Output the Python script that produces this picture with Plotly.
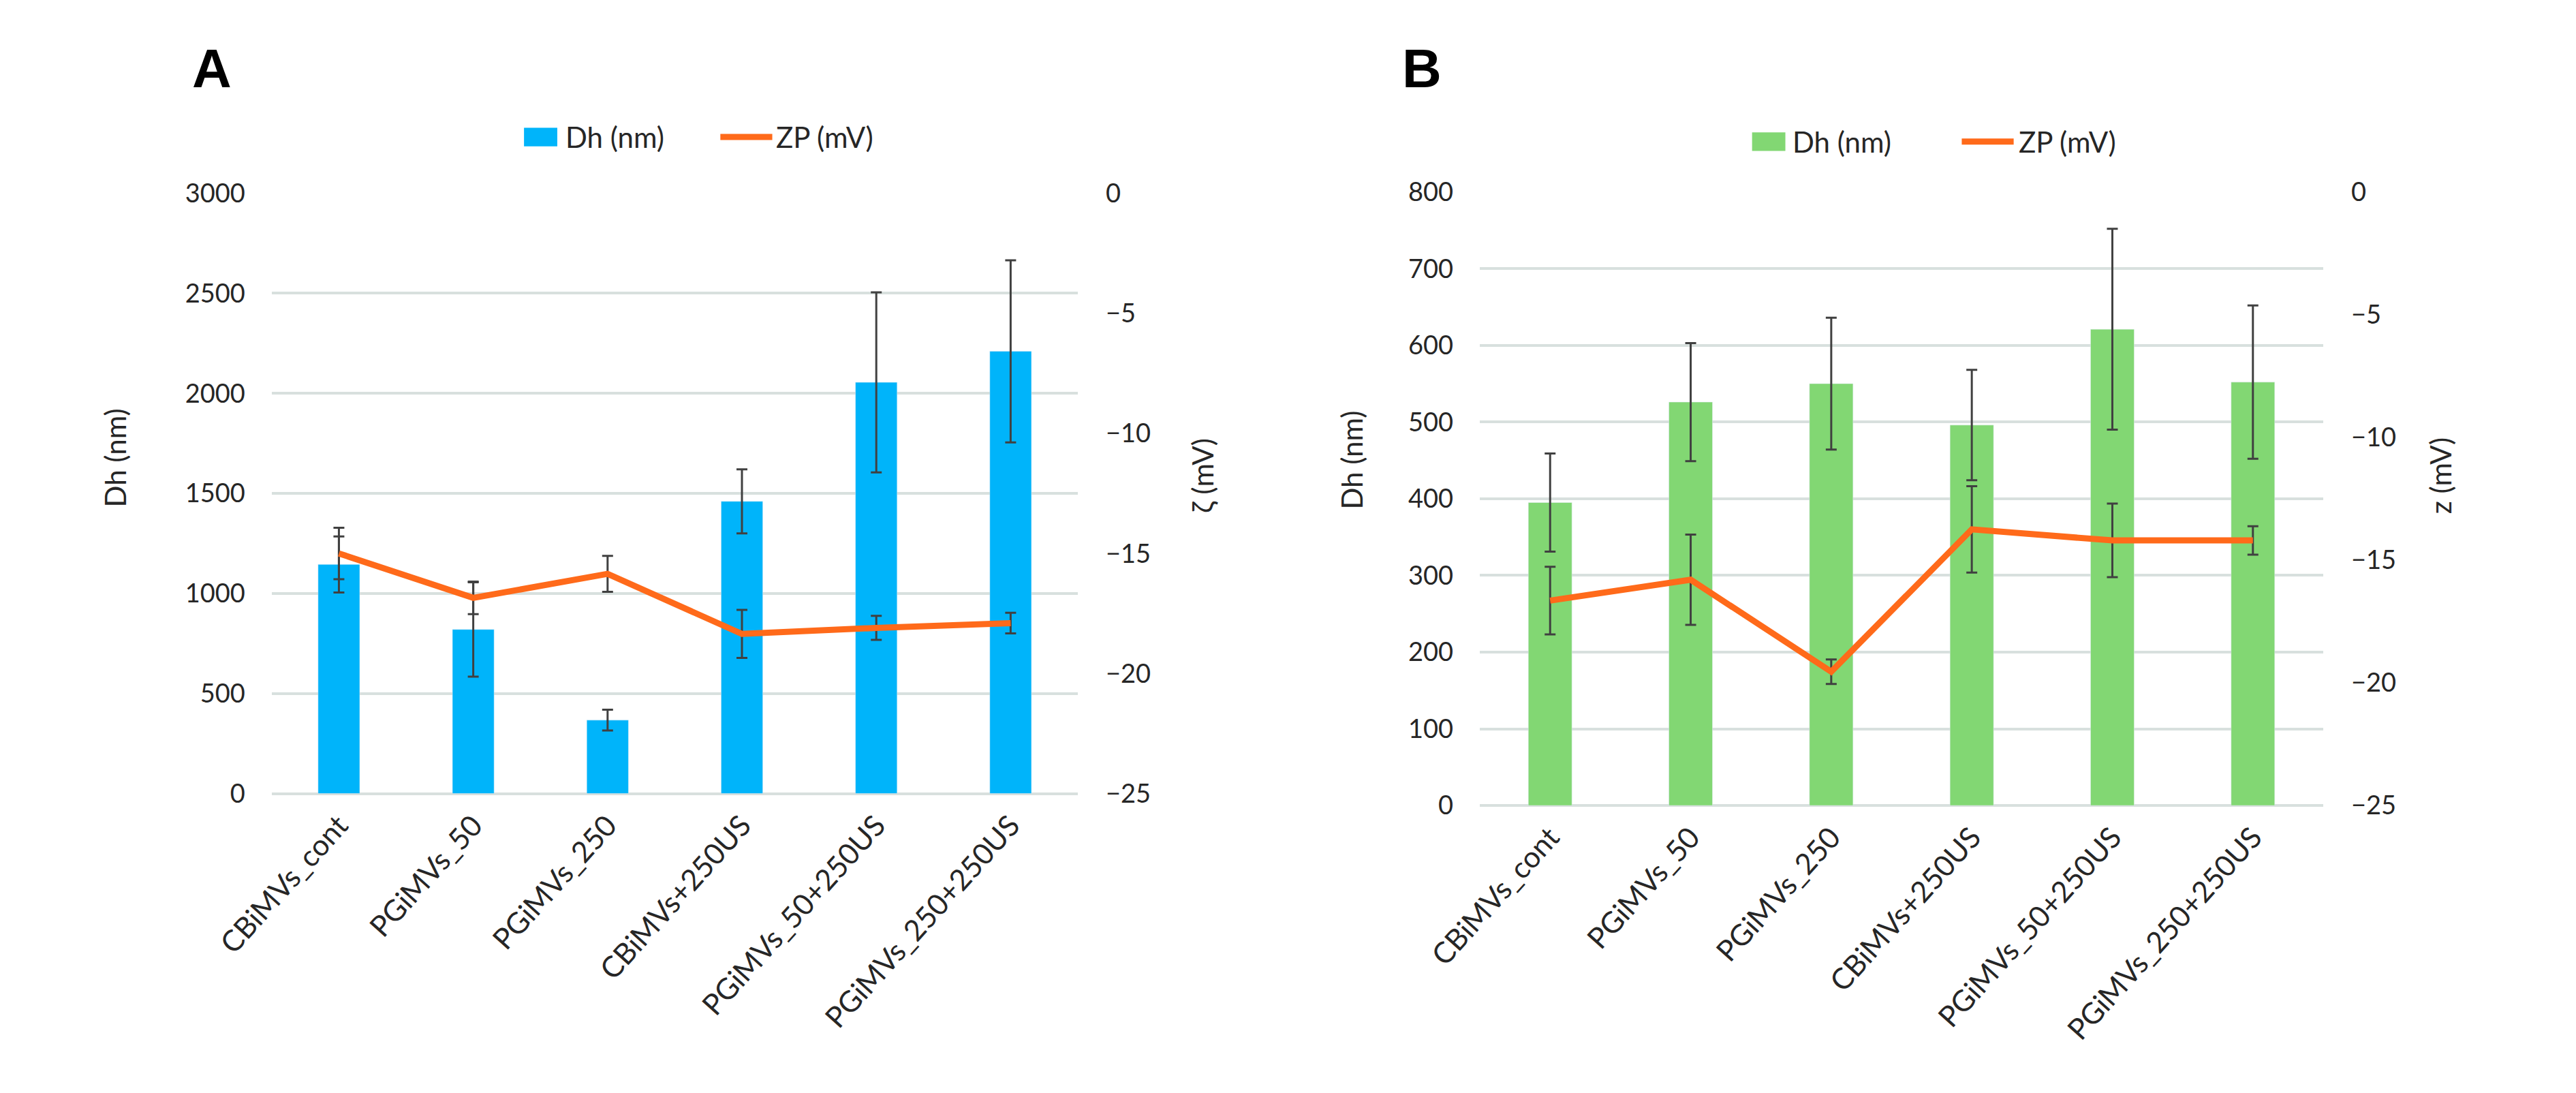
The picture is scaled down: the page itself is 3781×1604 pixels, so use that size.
import plotly.graph_objects as go

W, H = 3781, 1604

categories = ["CBiMVs_cont", "PGiMVs_50", "PGiMVs_250", "CBiMVs+250US",
              "PGiMVs_50+250US", "PGiMVs_250+250US"]

# Panel A
dh_a = [1145, 820, 367, 1460, 2055, 2210]
dh_a_err = [140, 236, 52, 160, 450, 455]
zp_a = [-15.0, -16.85, -15.85, -18.35, -18.1, -17.9]
zp_a_err = [1.07, 0.68, 0.75, 1.0, 0.5, 0.43]

# Panel B
dh_b = [395, 526, 550, 496, 621, 552]
dh_b_err = [64, 77, 86, 72, 131, 100]
zp_b = [-16.65, -15.8, -19.55, -13.75, -14.2, -14.2]
zp_b_err = [1.38, 1.84, 0.5, 1.76, 1.5, 0.58]

left_ticks_a = [0, 500, 1000, 1500, 2000, 2500, 3000]
left_ticks_b = [0, 100, 200, 300, 400, 500, 600, 700, 800]
right_ticks = [0, -5, -10, -15, -20, -25]

BLUE = "#00B4FA"
GREEN = "#82D773"
ORANGE = "#FF6A1A"
GRID = "#D8E0DE"
ERR = "#404040"
TXT = "#262626"
FONT = "Lato"


def px(x):
    return x / W


def py(y):
    return 1 - y / H


fig = go.Figure()

err_style = dict(type="data", visible=True, color=ERR, thickness=3, width=8)

fig.add_trace(go.Bar(x=categories, y=dh_a, marker_color=BLUE, name="Dh (nm)",
                     error_y=dict(array=dh_a_err, **err_style),
                     xaxis="x", yaxis="y", showlegend=False))
fig.add_trace(go.Scatter(x=categories, y=zp_a, mode="lines", name="ZP (mV)",
                         line=dict(color=ORANGE, width=9),
                         error_y=dict(array=zp_a_err, **err_style),
                         xaxis="x", yaxis="y2", showlegend=False))
fig.add_trace(go.Bar(x=categories, y=dh_b, marker_color=GREEN, name="Dh (nm)",
                     error_y=dict(array=dh_b_err, **err_style),
                     xaxis="x2", yaxis="y3", showlegend=False))
fig.add_trace(go.Scatter(x=categories, y=zp_b, mode="lines", name="ZP (mV)",
                         line=dict(color=ORANGE, width=9),
                         error_y=dict(array=zp_b_err, **err_style),
                         xaxis="x2", yaxis="y4", showlegend=False))

tickfont = dict(family=FONT, size=38, color=TXT)
xtickfont = dict(family=FONT, size=43, color=TXT)

A_X = (311, 1522)
A_Y = (258, 1165)
B_X = (2126, 3393)
B_Y = (256, 1183)

xax = dict(showgrid=False, zeroline=False, showline=False, ticks="",
           tickangle=-48, tickfont=xtickfont, ticklabelstandoff=12)
fig.update_layout(
    width=W, height=H,
    margin=dict(l=0, r=0, t=0, b=0),
    paper_bgcolor="white", plot_bgcolor="white",
    bargap=0.69,
    showlegend=False,
    xaxis=dict(domain=[px(A_X[0]), px(A_X[1])], anchor="y", **xax),
    yaxis=dict(domain=[py(A_Y[1]), py(A_Y[0])], anchor="x", range=[0, 3000],
               tickvals=left_ticks_a, showgrid=True, gridcolor=GRID, gridwidth=4,
               zeroline=True, zerolinecolor=GRID, zerolinewidth=4,
               showline=False, ticks="", tickfont=tickfont, ticklabelstandoff=38),
    yaxis2=dict(overlaying="y", side="right", anchor="x", range=[-25, 0],
                tickvals=right_ticks, showgrid=False, zeroline=False,
                showline=False, ticks="", tickfont=tickfont, ticklabelstandoff=40),
    xaxis2=dict(domain=[px(B_X[0]), px(B_X[1])], anchor="y3", **xax),
    yaxis3=dict(domain=[py(B_Y[1]), py(B_Y[0])], anchor="x2", range=[0, 800],
                tickvals=left_ticks_b, showgrid=True, gridcolor=GRID, gridwidth=4,
                zeroline=True, zerolinecolor=GRID, zerolinewidth=4,
                showline=False, ticks="", tickfont=tickfont, ticklabelstandoff=38),
    yaxis4=dict(overlaying="y3", side="right", anchor="x2", range=[-25, 0],
                tickvals=right_ticks, showgrid=False, zeroline=False,
                showline=False, ticks="", tickfont=tickfont, ticklabelstandoff=40),
)

ann = []
shapes = []


def text(x, y, s, size=38, angle=0, xanchor="center", bold=False, family=FONT):
    ann.append(dict(x=px(x), y=py(y), xref="paper", yref="paper", text=s,
                    showarrow=False, textangle=angle, xanchor=xanchor,
                    yanchor="middle",
                    font=dict(family=family, size=size, color="black" if bold else TXT)))


# panel letters
text(221, 70, "<b>A</b>", size=80, bold=True, family="Liberation Sans")
text(2039, 70, "<b>B</b>", size=80, bold=True, family="Liberation Sans")

# axis titles
text(76, 658, "Dh (nm)", size=42, angle=-90)
text(1710, 685, "ζ (mV)", size=42, angle=-90)
text(1934, 661, "Dh (nm)", size=42, angle=-90)
text(3570, 685, "z (mV)", size=42, angle=-90)


def legend(x_sq, sq_w, y, color, x_txt1, x_line, line_w, x_txt2):
    shapes.append(dict(type="rect", xref="paper", yref="paper",
                       x0=px(x_sq), x1=px(x_sq + sq_w), y0=py(y + 14), y1=py(y - 14),
                       fillcolor=color, line=dict(width=0)))
    text(x_txt1, y, "Dh (nm)", size=42, xanchor="left")
    shapes.append(dict(type="line", xref="paper", yref="paper",
                       x0=px(x_line), x1=px(x_line + line_w), y0=py(y), y1=py(y),
                       line=dict(color=ORANGE, width=9)))
    text(x_txt2, y, "ZP (mV)", size=42, xanchor="left")


legend(690, 50, 173, BLUE, 750, 985, 78, 1067)
legend(2535, 50, 180, GREEN, 2594, 2850, 78, 2933)

fig.update_layout(annotations=ann, shapes=shapes)

fig.write_html("out.html")
